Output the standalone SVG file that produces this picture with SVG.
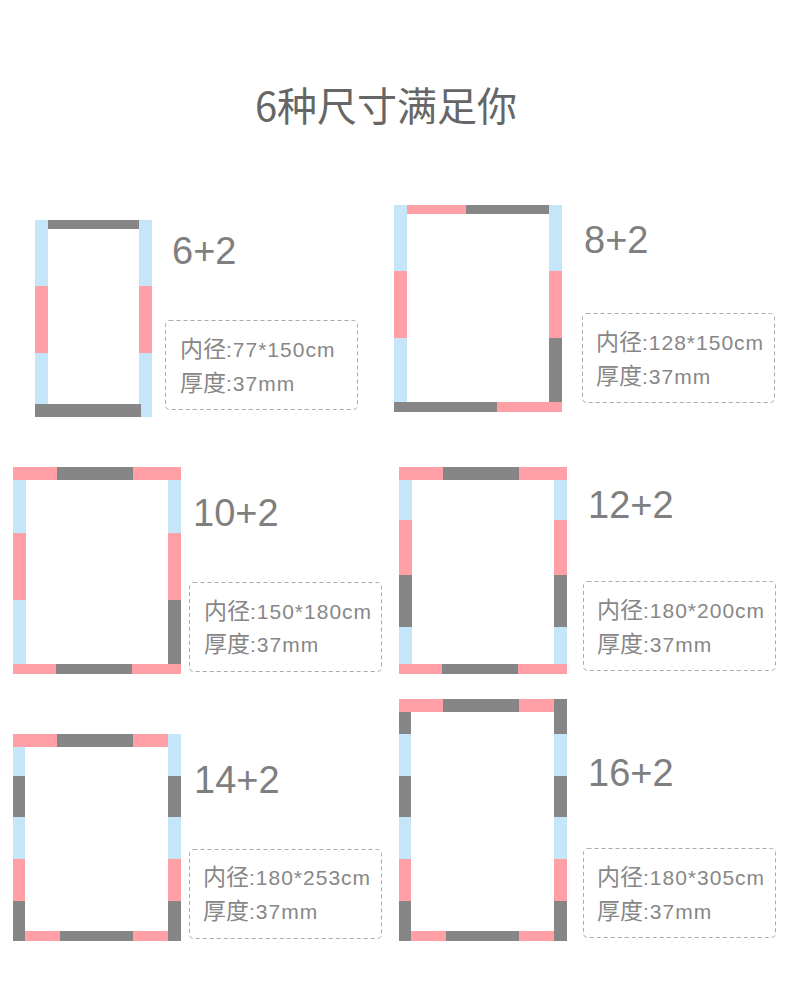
<svg xmlns="http://www.w3.org/2000/svg" width="790" height="1005" viewBox="0 0 790 1005">
<style>
.g{fill:#868686}.p{fill:#ff9fa6}.b{fill:#c4e6f8}
.box{fill:none;stroke:#ababab;stroke-width:1;stroke-dasharray:4 3}
.lbl{font-family:"Liberation Sans","Noto Sans CJK SC",sans-serif;font-size:38px;fill:#7f7f7f}
.info{font-family:"Liberation Sans","Noto Sans CJK SC",sans-serif;font-size:21px;fill:#878787;letter-spacing:1px}
.cj{font-family:"Noto Sans CJK SC",sans-serif;font-size:23px;letter-spacing:0}
.title{font-family:"Noto Sans CJK SC","Liberation Sans",sans-serif;font-size:40px;fill:#666666;text-anchor:middle}
</style>
<rect x="0" y="0" width="790" height="1005" fill="#ffffff"/>
<text class="title" x="386" y="121">6种尺寸满足你</text>

<g id="frame-6-2">
<rect class="b" x="35" y="220" width="13" height="66"/><rect class="p" x="35" y="286" width="13" height="67"/><rect class="b" x="35" y="353" width="13" height="51"/>
<rect class="g" x="48" y="220" width="91" height="9"/>
<rect class="b" x="139" y="220" width="13" height="66"/><rect class="p" x="139" y="286" width="13" height="67"/><rect class="b" x="139" y="353" width="13" height="64"/>
<rect class="g" x="35" y="404" width="106" height="13"/>
<text class="lbl" x="172" y="264">6+2</text>
<rect class="box" x="165.5" y="320.5" width="192" height="89" rx="4"/>
<text class="info" x="180" y="357"><tspan class="cj">内径</tspan>:77*150cm</text>
<text class="info" x="180" y="391"><tspan class="cj">厚度</tspan>:37mm</text>
</g>

<g id="frame-8-2">
<rect class="b" x="394" y="205" width="13" height="66"/><rect class="p" x="394" y="271" width="13" height="67"/><rect class="b" x="394" y="338" width="13" height="64"/>
<rect class="p" x="407" y="205" width="59" height="9"/><rect class="g" x="466" y="205" width="83" height="9"/>
<rect class="b" x="549" y="205" width="13" height="66"/><rect class="p" x="549" y="271" width="13" height="67"/><rect class="g" x="549" y="338" width="13" height="64"/>
<rect class="g" x="394" y="402" width="103" height="10"/><rect class="p" x="497" y="402" width="65" height="10"/>
<text class="lbl" x="584" y="253">8+2</text>
<rect class="box" x="582.5" y="313.5" width="192" height="89" rx="4"/>
<text class="info" x="596" y="349.5"><tspan class="cj">内径</tspan>:128*150cm</text>
<text class="info" x="596" y="383.5"><tspan class="cj">厚度</tspan>:37mm</text>
</g>

<g id="frame-10-2">
<rect class="p" x="13" y="467" width="44" height="13"/><rect class="g" x="57" y="467" width="76" height="13"/><rect class="p" x="133" y="467" width="48" height="13"/>
<rect class="b" x="13" y="480" width="13" height="53"/><rect class="p" x="13" y="533" width="13" height="67"/><rect class="b" x="13" y="600" width="13" height="64"/>
<rect class="b" x="168" y="480" width="13" height="53"/><rect class="p" x="168" y="533" width="13" height="67"/><rect class="g" x="168" y="600" width="13" height="64"/>
<rect class="p" x="13" y="664" width="43" height="10"/><rect class="g" x="56" y="664" width="76" height="10"/><rect class="p" x="132" y="664" width="49" height="10"/>
<text class="lbl" x="193" y="526">10+2</text>
<rect class="box" x="189.5" y="582.5" width="192" height="89" rx="4"/>
<text class="info" x="204" y="618.5"><tspan class="cj">内径</tspan>:150*180cm</text>
<text class="info" x="204" y="652"><tspan class="cj">厚度</tspan>:37mm</text>
</g>

<g id="frame-12-2">
<rect class="p" x="399" y="467" width="44" height="13"/><rect class="g" x="443" y="467" width="76" height="13"/><rect class="p" x="519" y="467" width="48" height="13"/>
<rect class="b" x="399" y="480" width="13" height="40"/><rect class="p" x="399" y="520" width="13" height="55"/><rect class="g" x="399" y="575" width="13" height="52"/><rect class="b" x="399" y="627" width="13" height="37"/>
<rect class="b" x="554" y="480" width="13" height="40"/><rect class="p" x="554" y="520" width="13" height="55"/><rect class="g" x="554" y="575" width="13" height="52"/><rect class="b" x="554" y="627" width="13" height="37"/>
<rect class="p" x="399" y="664" width="43" height="10"/><rect class="g" x="442" y="664" width="76" height="10"/><rect class="p" x="518" y="664" width="49" height="10"/>
<text class="lbl" x="588" y="518">12+2</text>
<rect class="box" x="583.5" y="581.5" width="192" height="89" rx="4"/>
<text class="info" x="597" y="618"><tspan class="cj">内径</tspan>:180*200cm</text>
<text class="info" x="597" y="651.5"><tspan class="cj">厚度</tspan>:37mm</text>
</g>

<g id="frame-14-2">
<rect class="p" x="13" y="734" width="44" height="13"/><rect class="g" x="57" y="734" width="76" height="13"/><rect class="p" x="133" y="734" width="35" height="13"/>
<rect class="b" x="13" y="747" width="12" height="29"/><rect class="g" x="13" y="776" width="12" height="41"/><rect class="b" x="13" y="817" width="12" height="42"/><rect class="p" x="13" y="859" width="12" height="42"/><rect class="g" x="13" y="901" width="12" height="40"/>
<rect class="b" x="168" y="734" width="13" height="42"/><rect class="g" x="168" y="776" width="13" height="41"/><rect class="b" x="168" y="817" width="13" height="42"/><rect class="p" x="168" y="859" width="13" height="42"/><rect class="g" x="168" y="901" width="13" height="40"/>
<rect class="p" x="25" y="931" width="35" height="10"/><rect class="g" x="60" y="931" width="73" height="10"/><rect class="p" x="133" y="931" width="35" height="10"/>
<text class="lbl" x="194" y="793">14+2</text>
<rect class="box" x="189.5" y="849.5" width="192" height="89" rx="4"/>
<text class="info" x="203" y="884.5"><tspan class="cj">内径</tspan>:180*253cm</text>
<text class="info" x="203" y="918.5"><tspan class="cj">厚度</tspan>:37mm</text>
</g>

<g id="frame-16-2">
<rect class="p" x="399" y="699" width="44" height="13"/><rect class="g" x="443" y="699" width="76" height="13"/><rect class="p" x="519" y="699" width="35" height="13"/>
<rect class="g" x="399" y="712" width="12" height="22"/><rect class="b" x="399" y="734" width="12" height="42"/><rect class="g" x="399" y="776" width="12" height="41"/><rect class="b" x="399" y="817" width="12" height="42"/><rect class="p" x="399" y="859" width="12" height="42"/><rect class="g" x="399" y="901" width="12" height="40"/>
<rect class="g" x="554" y="699" width="13" height="35"/><rect class="b" x="554" y="734" width="13" height="42"/><rect class="g" x="554" y="776" width="13" height="41"/><rect class="b" x="554" y="817" width="13" height="42"/><rect class="p" x="554" y="859" width="13" height="42"/><rect class="g" x="554" y="901" width="13" height="40"/>
<rect class="p" x="411" y="931" width="35" height="10"/><rect class="g" x="446" y="931" width="73" height="10"/><rect class="p" x="519" y="931" width="35" height="10"/>
<text class="lbl" x="588" y="786">16+2</text>
<rect class="box" x="583.5" y="848.5" width="192" height="89" rx="4"/>
<text class="info" x="597" y="884.5"><tspan class="cj">内径</tspan>:180*305cm</text>
<text class="info" x="597" y="918.5"><tspan class="cj">厚度</tspan>:37mm</text>
</g>

<g id="connectors"></g>
</svg>
